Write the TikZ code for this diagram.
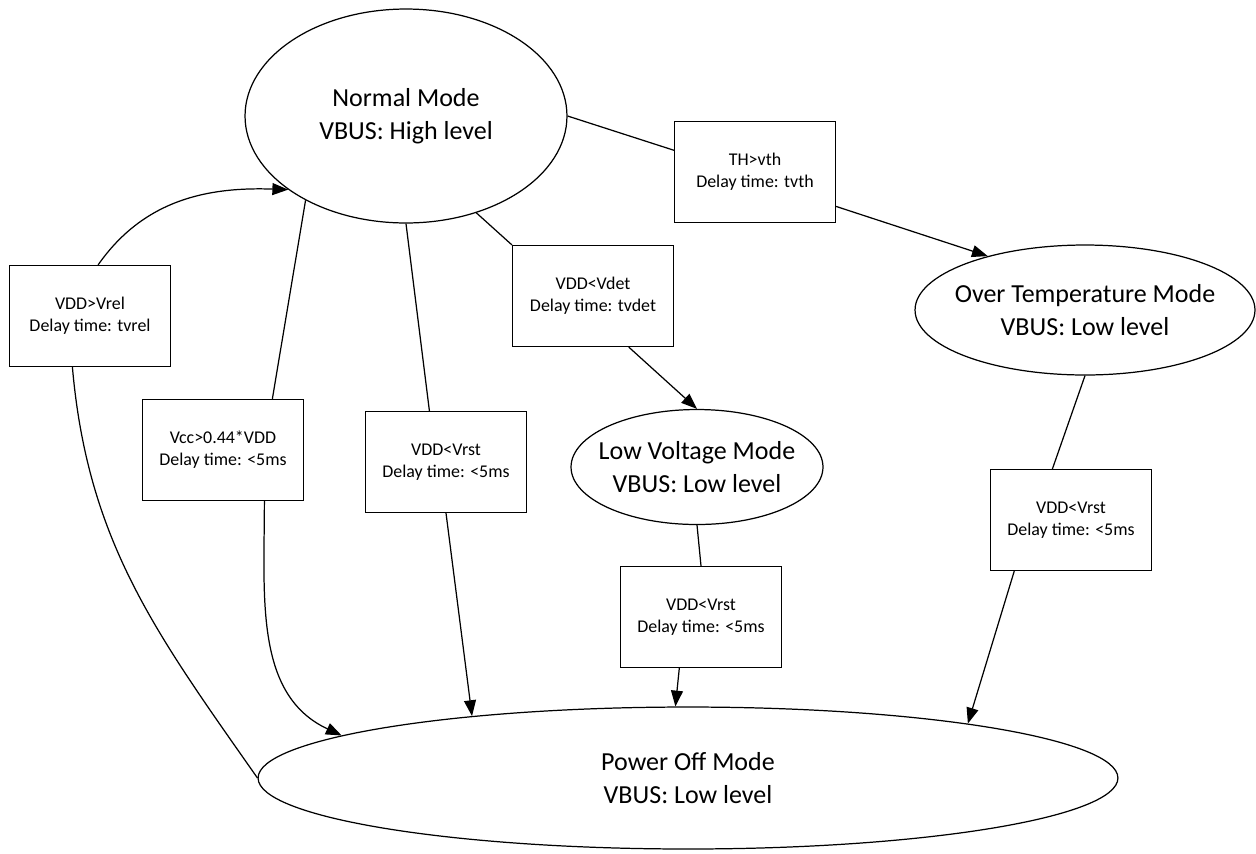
\documentclass[tikz,border=0pt]{standalone}
\usepackage{fontspec}
\setmainfont{Carlito}
\usetikzlibrary{arrows.meta, shapes, positioning}

\begin{document}
\begin{tikzpicture}[x=0.02cm, y=-0.02cm,
	every node/.append style={draw=black, line width=0.7pt, align=center},
	mode/.style={shape=ellipse, inner xsep=-1cm, inner ysep=0pt,
		font=\fontsize{14.8}{18.7}\selectfont},
	cond/.style={shape=rectangle, minimum width=3.22cm, minimum height=2.02cm,
		inner sep=0pt, font=\fontsize{10.2}{12.5}\selectfont},
	link/.style={line width=0.7pt},
	go/.style={link, -{Triangle[length=9pt, width=6.8pt]}}]

	\useasboundingbox (0,0) rectangle (1256,853);

	% states
	\node[mode, minimum width=6.44cm, minimum height=4.28cm] (normal) at (406,116) {Normal Mode\\VBUS: High level};
	\node[mode, minimum width=6.8cm, minimum height=2.6cm] (overtemp) at (1085,310) {Over Temperature Mode\\VBUS: Low level};
	\node[mode, minimum width=5.04cm, minimum height=2.3cm] (lowvolt) at (697,467) {Low Voltage Mode\\VBUS: Low level};
	\node[mode, minimum width=17.2cm, minimum height=2.84cm] (poweroff) at (688,778) {Power Off Mode\\VBUS: Low level};

	% conditions
	\node[cond] (vrel) at (90,316) {VDD>Vrel\\Delay time: tvrel};
	\node[cond] (vth) at (755,172) {TH>vth\\Delay time: tvth};
	\node[cond] (vdet) at (593,296) {VDD<Vdet\\Delay time: tvdet};
	\node[cond] (vcc) at (223,450) {Vcc>0.44*VDD\\Delay time: <5ms};
	\node[cond] (rstN) at (446,462) {VDD<Vrst\\Delay time: <5ms};
	\node[cond] (rstL) at (701,617) {VDD<Vrst\\Delay time: <5ms};
	\node[cond] (rstT) at (1071,520) {VDD<Vrst\\Delay time: <5ms};

	\draw[link] (normal.east) -- (vth.165);
	\draw[go] (vth.-23) -- (overtemp.151);
	\draw[link] (normal.-54) -- (vdet.north west);
	\draw[go] (vdet.-55) -- (lowvolt.north);
	\draw[link] (normal.south) -- (rstN.108);
	\draw[go] (rstN.south) -- (poweroff.164);
	\draw[link] (normal.220) -- (vcc.46);
	\draw[go] (vcc.-51) to[out=-90, in=155] (poweroff.173);
	\draw[link] (vrel.-109) to[out=-85, in=125] (poweroff.west);
	\draw[go] (vrel.81) to[out=55, in=178] (normal.212);
	\draw[link] (overtemp.south) -- (rstT.110);
	\draw[go] (rstT.-138) -- (poweroff.11);
	\draw[link] (lowvolt.south) -- (rstL.north);
	\draw[go] (rstL.-113) -- (poweroff.100);
\end{tikzpicture}
\end{document}
